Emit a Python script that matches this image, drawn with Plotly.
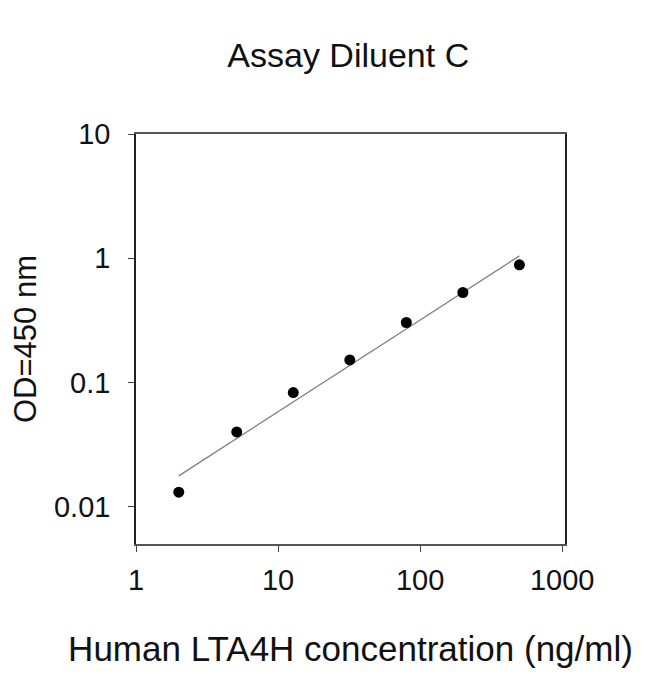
import plotly.graph_objects as go

# standard curve
conc = [2.0, 5.12, 12.8, 32.0, 80.0, 200.0, 500.0]
od = [0.0131, 0.040, 0.083, 0.152, 0.304, 0.53, 0.885]

# fitted line end points (log-log linear fit)
fit_x = [2.0, 500.0]
fit_y = [0.0177, 1.045]

x_ticks = [1, 10, 100, 1000]
x_tick_text = ["1", "10", "100", "1000"]
y_ticks = [0.01, 0.1, 1, 10]
y_tick_text = ["0.01", "0.1", "1", "10"]

FONT = "Liberation Sans, Arial, sans-serif"

fig = go.Figure()

fig.add_trace(go.Scatter(
    x=fit_x, y=fit_y,
    mode="lines",
    line=dict(color="#7f7f7f", width=1.3),
    showlegend=False,
    hoverinfo="skip",
))
fig.add_trace(go.Scatter(
    x=conc, y=od,
    mode="markers",
    marker=dict(color="black", size=11),
    showlegend=False,
))

# page body has an 8px margin, so the figure is a bit smaller than the window
fig.update_layout(
    width=642, height=666,
    paper_bgcolor="white",
    plot_bgcolor="white",
    margin=dict(l=128, r=85, t=126, b=130),
    font=dict(family=FONT, color="#111"),
    title=dict(
        text="Assay Diluent C",
        font=dict(size=34, color="#111"),
        x=0.53, xanchor="center",
        yref="container", y=1 - 47 / 666, yanchor="middle",
    ),
)

fig.update_xaxes(
    type="log",
    range=[0, 3.02],
    tickvals=x_ticks,
    ticktext=x_tick_text,
    ticks="outside", ticklen=6, tickwidth=1.3, tickcolor="#444",
    tickfont=dict(size=29, color="#111"),
    ticklabelstandoff=3,
    showgrid=False, zeroline=False,
    showline=True, linecolor="#555", linewidth=1.5, mirror=True,
    title=dict(
        text="Human LTA4H concentration (ng/ml)",
        font=dict(size=35, color="#111"),
        standoff=42,
    ),
)

fig.update_yaxes(
    type="log",
    range=[-2.3, 1.0],
    automargin=False,
    tickvals=y_ticks,
    ticktext=y_tick_text,
    ticks="outside", ticklen=6, tickwidth=1.3, tickcolor="#444",
    tickfont=dict(size=29, color="#111"),
    ticklabelstandoff=12,
    showgrid=False, zeroline=False,
    showline=True, linecolor="#222", linewidth=1.5, mirror=True,
    title=dict(
        text="OD=450 nm",
        font=dict(size=31, color="#111"),
        standoff=19,
    ),
)

fig.write_html("out.html")
